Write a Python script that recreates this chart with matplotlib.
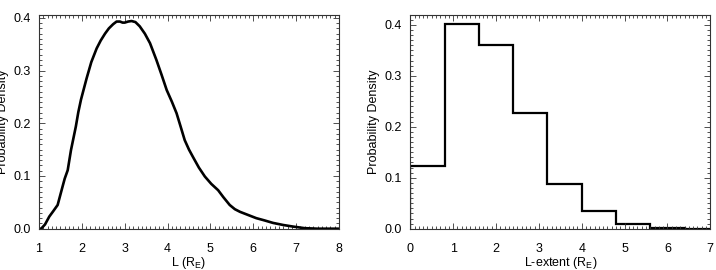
import matplotlib
matplotlib.use("Agg")
import matplotlib.pyplot as plt
from matplotlib.ticker import MultipleLocator
import numpy as np

plt.rcParams['font.family'] = ['Liberation Sans', 'DejaVu Sans']
plt.rcParams['mathtext.fontset'] = 'custom'
plt.rcParams['mathtext.rm'] = 'Liberation Sans'

# Left panel: probability density of L
L_vals = [1.0, 1.05, 1.14, 1.24, 1.33, 1.435, 1.55, 1.60, 1.67, 1.746, 1.86, 1.917,
          1.98, 2.11, 2.22, 2.345, 2.44, 2.54, 2.63, 2.73, 2.81, 2.89, 2.95, 3.0,
          3.08, 3.16, 3.25, 3.35, 3.47, 3.59, 3.74, 3.86, 3.98, 4.10, 4.21,
          4.30, 4.40, 4.50, 4.60, 4.73, 4.87, 5.02, 5.18, 5.30, 5.45, 5.57,
          5.69, 5.88, 6.07, 6.25, 6.46, 6.70, 6.93, 7.2, 7.5, 8.0]
L_dens = [0.0, 0.0, 0.008, 0.023, 0.033, 0.045, 0.08, 0.095, 0.111, 0.149, 0.194, 0.221,
          0.245, 0.285, 0.316, 0.342, 0.357, 0.370, 0.380, 0.388, 0.393, 0.393, 0.391, 0.391,
          0.393, 0.394, 0.392, 0.384, 0.370, 0.352, 0.320, 0.292, 0.263, 0.241, 0.219,
          0.195, 0.168, 0.150, 0.135, 0.116, 0.099, 0.085, 0.073, 0.060, 0.045, 0.037,
          0.032, 0.026, 0.020, 0.016, 0.011, 0.007, 0.004, 0.001, 0.0, 0.0]

# Right panel: histogram of L-extent
bin_edges = [0.0, 0.8, 1.6, 2.4, 3.2, 4.0, 4.8, 5.6, 6.4, 7.2]
bin_dens = [0.123, 0.402, 0.360, 0.228, 0.087, 0.035, 0.010, 0.002, 0.0]

fig = plt.figure(figsize=(7.16, 2.70), dpi=100)
ax1 = fig.add_axes([39/716, 1-228.7/270, 300/716, 214/270])
ax2 = fig.add_axes([410.3/716, 1-228.7/270, 300/716, 214/270])

fs = 9
ax1.plot(L_vals, L_dens, color='black', lw=1.9, solid_joinstyle='round')
ax1.set_xlim(1, 8)
ax1.set_ylim(0, 0.406)
ax1.xaxis.set_major_locator(MultipleLocator(1))
ax1.xaxis.set_minor_locator(MultipleLocator(0.1))
ax1.set_xlabel(r'L (R$_\mathregular{E}$)', fontsize=fs, labelpad=0)
ax1.set_ylabel('Probability Density', fontsize=fs, labelpad=3)

ax2.stairs(bin_dens, bin_edges, color='black', lw=1.6)
ax2.set_xlim(0, 7)
ax2.set_ylim(0, 0.42)
ax2.xaxis.set_major_locator(MultipleLocator(1))
ax2.xaxis.set_minor_locator(MultipleLocator(0.1))
ax2.set_xlabel(r'L-extent (R$_\mathregular{E}$)', fontsize=fs, labelpad=0)
ax2.set_ylabel('Probability Density', fontsize=fs, labelpad=3)

for ax in (ax1, ax2):
    ax.yaxis.set_major_locator(MultipleLocator(0.1))
    ax.yaxis.set_minor_locator(MultipleLocator(0.01))
    ax.yaxis.set_major_formatter(matplotlib.ticker.FormatStrFormatter('%.1f'))
    ax.tick_params(which='both', direction='in', top=True, right=True,
                   colors='#333333', labelcolor='black', labelsize=fs, width=0.6)
    ax.tick_params(which='major', length=4.5)
    ax.tick_params(which='minor', length=2.5)
    ax.tick_params(axis='x', which='major', pad=10)
    ax.tick_params(axis='y', which='major', pad=6)
    for s in ax.spines.values():
        s.set_linewidth(0.8)
        s.set_color('#333333')

fig.savefig('out.png', dpi=100)
